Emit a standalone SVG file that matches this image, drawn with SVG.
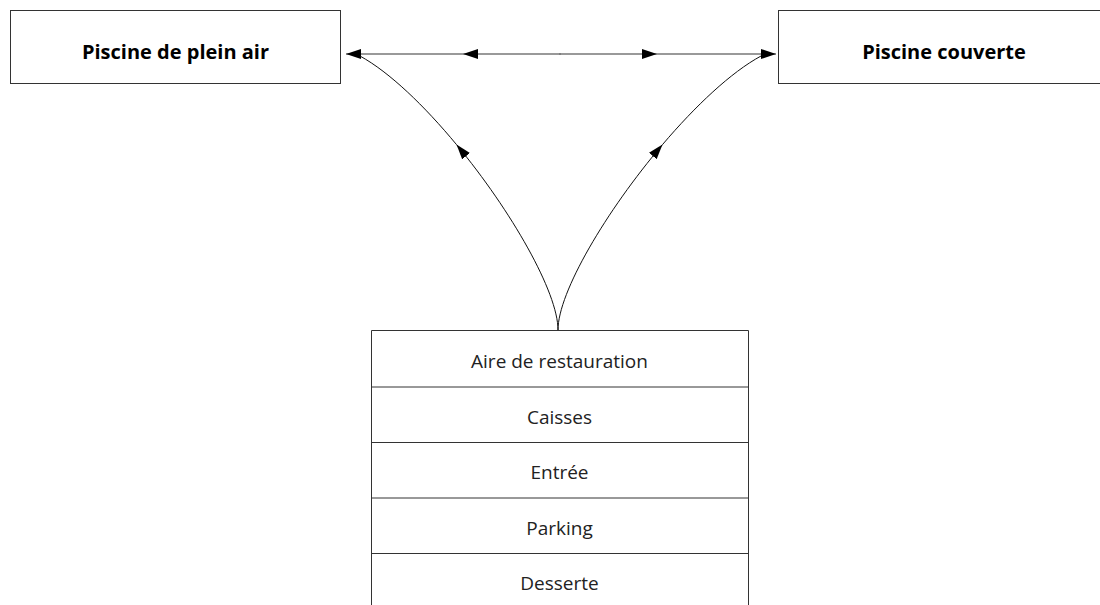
<svg xmlns="http://www.w3.org/2000/svg" width="1100" height="605" viewBox="0 0 1100 605">
<style>
.box{fill:#fff;stroke:#333;stroke-width:1}
.title{font-family:"Open Sans","Noto Sans",sans-serif;font-weight:bold;font-size:20px;fill:#000;text-anchor:middle}
.lbl{font-family:"Open Sans","Noto Sans",sans-serif;font-size:19px;fill:#222;text-anchor:middle}
.hline{fill:none;stroke:#777;stroke-width:1.5}
.curve{fill:none;stroke:#111;stroke-width:1}
</style>
<defs>
<marker id="arr" markerUnits="userSpaceOnUse" markerWidth="16" markerHeight="11" refX="15" refY="5" orient="auto">
<path d="M0,0 L15,5 L0,10 z" fill="#000"/>
</marker>
</defs>
<rect width="1100" height="605" fill="#fff"/>
<g id="node-plein-air">
<rect class="box" x="10.5" y="10.5" width="330" height="73"/>
<text class="title" x="175.5" y="58.5">Piscine de plein air</text>
</g>
<g id="node-couverte">
<rect class="box" x="778.5" y="10.5" width="340" height="73"/>
<text class="title" x="944" y="58.5">Piscine couverte</text>
</g>
<g id="node-stack">
<path class="box" d="M371.5,605 V330.5 H748.5 V605"/>
<path class="box" d="M371.5,387 H748.5 M371.5,442.5 H748.5 M371.5,498 H748.5 M371.5,553.5 H748.5"/>
<text class="lbl" x="559.5" y="368">Aire de restauration</text>
<text class="lbl" x="559.5" y="423.5">Caisses</text>
<text class="lbl" x="559.5" y="479">Entrée</text>
<text class="lbl" x="559.5" y="534.5">Parking</text>
<text class="lbl" x="559.5" y="590">Desserte</text>
</g>
<g id="connectors">
<path class="hline" d="M561,54 H463" marker-end="url(#arr)"/>
<path class="hline" d="M463,54 H346" marker-end="url(#arr)"/>
<path class="hline" d="M559,54 H657" marker-end="url(#arr)"/>
<path class="hline" d="M657,54 H776" marker-end="url(#arr)"/>
<path class="curve" d="M558,330 C558,292.2 511.2,210.7 456.5,144.6" marker-end="url(#arr)"/>
<path class="curve" d="M456.5,144.6 C424.4,105.8 389.6,72.3 360,56"/>
<path class="curve" d="M558,330 C558,292.2 606.4,210.7 662.5,144.6" marker-end="url(#arr)"/>
<path class="curve" d="M662.5,144.6 C695.5,105.8 731,72.3 761,56"/>
</g>
</svg>
